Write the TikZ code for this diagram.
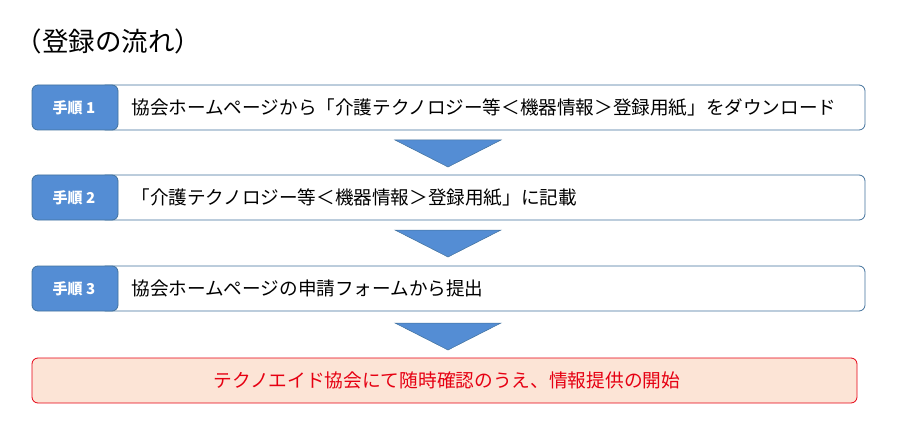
\documentclass[tikz,border=0pt]{standalone}
\usepackage{fontspec}
\setmainfont{Noto Sans CJK JP}
\usetikzlibrary{positioning}
\definecolor{stepblue}{RGB}{84,141,212}
\definecolor{edgeblue}{RGB}{65,113,156}
\definecolor{endred}{RGB}{230,0,18}
\definecolor{endfill}{RGB}{252,228,214}
\begin{document}
\begin{tikzpicture}[x=1pt,y=-1pt,
    stepbox/.style={draw=edgeblue,fill=white,rounded corners=6pt,line width=0.8pt},
    steptag/.style={draw=edgeblue,fill=stepblue,rounded corners=6pt,line width=0.8pt},
    tagtext/.style={text=white,font=\fontsize{15}{17}\selectfont\bfseries},
    steptext/.style={anchor=west,font=\fontsize{18.6}{21}\selectfont},
    downarrow/.style={fill=stepblue,draw=edgeblue,line width=0.5pt}
    ]
    \useasboundingbox (0,0) rectangle (900,433);
    \node[anchor=west,font=\fontsize{26.5}{30}\selectfont] (title) at (12,41) {（登録の流れ）};

    \foreach \n/\top/\txt in {%
        1/85/{協会ホームページから「介護テクノロジー等＜機器情報＞登録用紙」をダウンロード},
        2/175/{「介護テクノロジー等＜機器情報＞登録用紙」に記載},
        3/266/{協会ホームページの申請フォームから提出}}{
        \draw[stepbox] (100,\top) rectangle (865,\top+45);
        \draw[steptag] (32,\top) rectangle (118,\top+45);
        \node[tagtext] (tag\n) at (74,\top+22.5) {手順 \n};
        \node[steptext] (step\n) at (128,\top+22.5) {\txt};
    }
    \foreach \top in {140,230,323}
        \draw[downarrow] (395,\top) -- (501,\top) -- (448,\top+27) -- cycle;

    \draw[draw=endred,fill=endfill,rounded corners=6pt,line width=0.8pt] (32,358) rectangle (857,403);
    \node[text=endred,font=\fontsize{18.7}{21}\selectfont] (goal) at (447,380.5)
        {テクノエイド協会にて随時確認のうえ、情報提供の開始};
\end{tikzpicture}
\end{document}
